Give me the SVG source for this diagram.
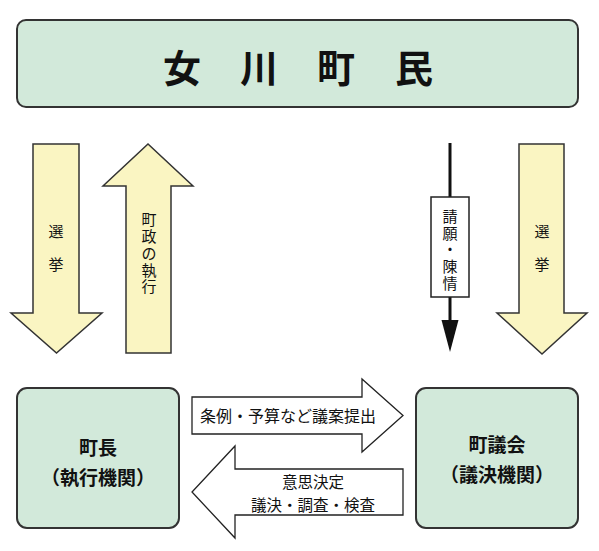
<svg xmlns="http://www.w3.org/2000/svg" width="599" height="551" viewBox="0 0 599 551">
<style>
text{font-family:"Noto Sans CJK JP","Noto Sans",sans-serif;fill:#111;dominant-baseline:central;text-anchor:middle}
.box{fill:#D2E9DA;stroke:#333;stroke-width:2}
.ya{fill:#FAF5C2;stroke:#333;stroke-width:1.5;stroke-linejoin:miter}
.wa{fill:#fff;stroke:#222;stroke-width:1.3}
.v{font-size:15px}
.h{font-size:16px}
.h2{font-size:15.5px}
.b{font-size:19px;font-weight:bold}
</style>
<rect width="599" height="551" fill="#fff"/>
<g id="node-residents">
<rect class="box" x="17" y="20" width="561" height="87" rx="9"/>
<text x="182 259 336 414" y="65" style="font-size:38px;font-weight:bold">女川町民</text>
</g>
<g id="node-mayor">
<rect class="box" x="17" y="388" width="162" height="140" rx="10"/>
<text class="b" x="98" y="446">町長</text>
<text class="b" x="98" y="476">（執行機関）</text>
</g>
<g id="node-assembly">
<rect class="box" x="416" y="388" width="162" height="140" rx="10"/>
<text class="b" x="497" y="443">町議会</text>
<text class="b" x="497" y="473">（議決機関）</text>
</g>
<g id="connectors">
<g id="arrow-election-left">
<path class="ya" d="M33,144 L79,144 L79,313 L102,313 L56.5,353 L11,313 L33,313 Z"/>
<text class="v" x="56 56" y="230 263">選挙</text>
</g>
<g id="arrow-administration">
<path class="ya" d="M126,353 L126,186 L103,186 L148,144 L193,186 L171,186 L171,353 Z"/>
<text class="v" x="149 149 149 149 149" y="218 235.5 252.5 269 285.5">町政の執行</text>
</g>
<g id="arrow-petition">
<line x1="450" y1="143" x2="450" y2="322" stroke="#111" stroke-width="3"/>
<polygon points="441.5,320 458.5,320 450,352" fill="#111"/>
<rect x="431" y="197" width="38" height="100" fill="#fff" stroke="#222" stroke-width="1.5"/>
<text class="v" x="450 450 450 450 450" y="215 232 248.5 265 282">請願・陳情</text>
</g>
<g id="arrow-election-right">
<path class="ya" d="M519,144 L564,144 L564,313 L587,313 L542,354 L497,313 L519,313 Z"/>
<text class="v" x="542 542" y="230 263">選挙</text>
</g>
<g id="arrow-proposal">
<path class="wa" d="M192,397 L362,397 L362,379 L403,415.5 L362,452 L362,434 L192,434 Z"/>
<text class="h" x="288" y="415">条例・予算など議案提出</text>
</g>
<g id="arrow-decision">
<path class="wa" d="M403,469 L235,469 L235,446 L192,492 L235,538 L235,515 L403,515 Z"/>
<text class="h2" x="313" y="481">意思決定</text>
<text class="h2" x="313" y="503.5">議決・調査・検査</text>
</g>
</g>
</svg>
